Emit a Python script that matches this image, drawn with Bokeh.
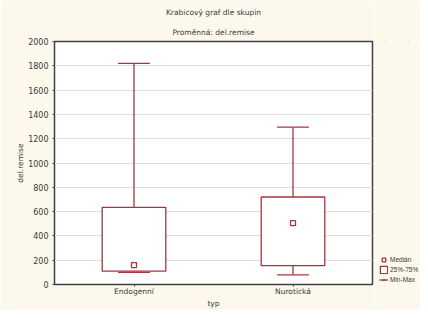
from bokeh.plotting import figure
from bokeh.models import (FactorRange, ColumnDataSource, FixedTicker, Legend, LegendItem, Title)
from bokeh.layouts import row
from bokeh.transform import dodge
from bokeh.embed import file_html
from bokeh.resources import INLINE

# ---- data ----
categories = ["Endogenní", "Nurotická"]
mins = [100, 80]
q1s = [110, 155]
medians = [160, 505]
q3s = [635, 720]
maxs = [1820, 1295]
y_ticks = [0, 200, 400, 600, 800, 1000, 1200, 1400, 1600, 1800, 2000]
legend_labels = ["Medián", "25%-75%", "Min-Max"]
title_main = "Krabicový graf dle skupin"
title_sub = "Proměnná: del.remise"

BG = "#fcf8ec"
RED = "#a8343e"
TXT = "#3a3a3a"
FONT = "DejaVu Sans"

src = ColumnDataSource(dict(cat=categories, mn=mins, q1=q1s, med=medians, q3=q3s, mx=maxs))

p = figure(width=374, height=310, x_range=FactorRange(*categories), y_range=(0, 2000),
           output_backend="svg", toolbar_location=None,
           min_border_left=54, min_border_right=2, min_border_top=0, min_border_bottom=0)
p.background_fill_color = "white"
p.border_fill_color = BG
p.outline_line_color = "#404040"
p.outline_line_width = 1.5

t2 = Title(text=title_sub, align="center", text_font=FONT,
           text_font_size="7.5px", text_font_style="normal", text_color=TXT, standoff=9)
t1 = Title(text=title_main, align="center", text_font=FONT,
           text_font_size="7.5px", text_font_style="normal", text_color=TXT, standoff=10)
p.add_layout(t2, "above")
p.add_layout(t1, "above")

# axes
p.yaxis.ticker = FixedTicker(ticks=y_ticks)
p.yaxis.axis_label = "del.remise"
for ax in (p.xaxis[0], p.yaxis[0]):
    ax.axis_line_color = None
    ax.major_tick_line_color = "#404040"
    ax.major_tick_out = 2
    ax.major_tick_in = 0
    ax.minor_tick_line_color = None
    ax.major_label_text_font = FONT
    ax.major_label_text_font_size = "7.5px"
    ax.major_label_text_color = TXT
    ax.axis_label_text_font = FONT
    ax.axis_label_text_font_size = "7.5px"
    ax.axis_label_text_font_style = "normal"
    ax.axis_label_text_color = TXT
p.yaxis.major_label_text_font_size = "8px"
p.yaxis.major_label_standoff = 4
p.yaxis.axis_label_standoff = 0
p.xaxis.axis_label = "typ"
p.xaxis.major_label_standoff = 0
p.xaxis.axis_label_standoff = 0

p.xgrid.grid_line_color = None
p.ygrid.grid_line_color = "#dcdcdc"
p.ygrid.grid_line_width = 1

# whiskers
p.segment(x0="cat", y0="q3", x1="cat", y1="mx", source=src, line_color=RED, line_width=1.3)
p.segment(x0="cat", y0="mn", x1="cat", y1="q1", source=src, line_color=RED, line_width=1.3)
p.segment(x0=dodge("cat", -0.1, range=p.x_range), y0="mx",
          x1=dodge("cat", 0.1, range=p.x_range), y1="mx",
          source=src, line_color=RED, line_width=1.3)
p.segment(x0=dodge("cat", -0.1, range=p.x_range), y0="mn",
          x1=dodge("cat", 0.1, range=p.x_range), y1="mn",
          source=src, line_color=RED, line_width=1.3)
# boxes
p.vbar(x="cat", width=0.4, bottom="q1", top="q3", source=src,
       fill_color="white", line_color=RED, line_width=1.3)
# medians
p.scatter(x="cat", y="med", source=src, marker="square", size=5,
          fill_color="white", line_color=RED, line_width=1.3)

# ---- legend panel (narrow figure; its renderers lie outside its range, only icons show) ----
lg = figure(width=46, height=310, x_range=FactorRange(*categories), y_range=(-3000, -2000),
            output_backend="svg", toolbar_location=None,
            min_border_left=0, min_border_right=0, min_border_top=0, min_border_bottom=0)
lg.axis.visible = False
lg.grid.visible = False
lg.outline_line_color = None
lg.background_fill_color = BG
lg.border_fill_color = BG
r_med = lg.scatter(x="cat", y="med", source=src, marker="square", size=5,
                   fill_color="white", line_color=RED, line_width=1.3)
# degenerate (zero-size) bar: only its legend icon is seen
r_box = lg.vbar(x="cat", width=0, bottom="q1", top="q1", source=src,
                fill_color="white", line_color=RED, line_width=1.3)
r_wh1 = lg.scatter(x="cat", y="mx", source=src, marker="dash", angle=1.5708, size=8,
                   line_color=RED, line_width=1.3)
r_wh2 = lg.segment(x0="cat", y0="mx", x1="cat", y1="mx", source=src,
                   line_color=RED, line_width=1.3)
legend = Legend(items=[LegendItem(label=legend_labels[0], renderers=[r_med]),
                       LegendItem(label=legend_labels[1], renderers=[r_box]),
                       LegendItem(label=legend_labels[2], renderers=[r_wh1, r_wh2])],
                location=(5, 0), orientation="vertical",
                glyph_width=9, glyph_height=9, label_height=9, spacing=1,
                padding=0, margin=0, label_standoff=2,
                label_text_font="Liberation Sans", label_text_font_size="6.5px",
                label_text_color=TXT,
                background_fill_alpha=0, border_line_color=None)
lg.add_layout(legend, "center")

layout = row(p, lg, spacing=0)
open("out.html", "w").write(file_html(layout, INLINE))
